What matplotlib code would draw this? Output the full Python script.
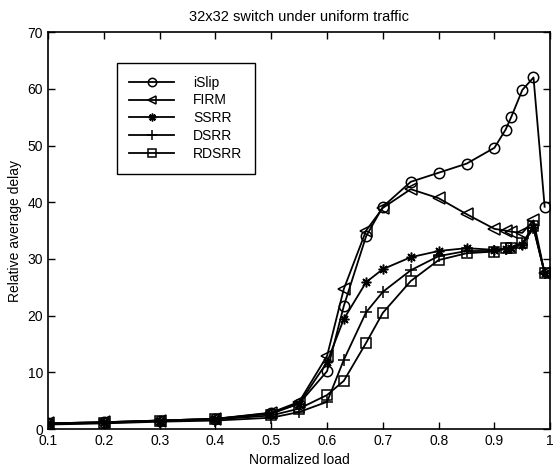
import matplotlib
matplotlib.use("Agg")
import matplotlib.pyplot as plt

plt.rcParams['font.family'] = ['Liberation Sans', 'DejaVu Sans']

load = [0.1, 0.2, 0.3, 0.4, 0.5, 0.55, 0.6, 0.63, 0.67, 0.7, 0.75, 0.8, 0.85, 0.9, 0.92, 0.93, 0.95, 0.97, 0.99]
islip = [1.0, 1.2, 1.5, 1.8, 2.8, 4.5, 10.2, 21.7, 34.0, 39.2, 43.6, 45.2, 46.8, 49.6, 52.8, 55.0, 59.8, 62.0, 39.2]
firm = [1.0, 1.2, 1.5, 1.8, 2.9, 4.8, 12.9, 24.7, 35.0, 39.0, 42.3, 40.7, 37.9, 35.3, 35.0, 34.8, 34.6, 36.8, 27.5]
ssrr = [1.0, 1.2, 1.5, 1.8, 2.7, 4.5, 11.8, 19.4, 25.9, 28.2, 30.3, 31.4, 31.9, 31.6, 31.8, 32.0, 32.5, 35.6, 27.5]
dsrr = [0.8, 1.0, 1.3, 1.5, 2.0, 3.0, 4.8, 12.2, 20.6, 24.2, 28.0, 30.5, 31.4, 31.4, 31.8, 31.9, 32.6, 35.4, 27.5]
rdsrr = [0.9, 1.1, 1.4, 1.7, 2.4, 3.6, 6.0, 8.5, 15.2, 20.5, 26.1, 29.8, 31.0, 31.3, 32.0, 32.0, 32.8, 35.8, 27.5]

xticks = [0.1, 0.2, 0.3, 0.4, 0.5, 0.6, 0.7, 0.8, 0.9, 1.0]
xticklabels = ['0.1', '0.2', '0.3', '0.4', '0.5', '0.6', '0.7', '0.8', '0.9', '1']
yticks = [0, 10, 20, 30, 40, 50, 60, 70]

fig = plt.figure(figsize=(5.53, 4.72), dpi=100)
ax = fig.add_axes([0.087, 0.091, 0.908, 0.841])

lw = 1.3
common = dict(color='black', linewidth=lw, markeredgewidth=1.1)
ax.plot(load, islip, marker='o', markersize=7.5, markerfacecolor='none', label='iSlip', **common)
ax.plot(load, firm, marker='<', markersize=8, markerfacecolor='none', label='FIRM', **common)
ax.plot(load, ssrr, marker=(8, 2, 0), markersize=7, label='SSRR', **common)
ax.plot(load, dsrr, marker='+', markersize=9, label='DSRR', **common)
ax.plot(load, rdsrr, marker='s', markersize=7, markerfacecolor='none', label='RDSRR', **common)

ax.set_xlim(0.1, 1.0)
ax.set_ylim(0, 70)
ax.set_xticks(xticks)
ax.set_xticklabels(xticklabels)
ax.set_yticks(yticks)
ax.tick_params(direction='in', top=True, right=True, length=5, labelsize=10, width=1)
for s in ax.spines.values():
    s.set_linewidth(1.2)

ax.set_xlabel('Normalized load', fontsize=10, labelpad=4)
ax.set_ylabel('Relative average delay', fontsize=10, labelpad=4)
ax.set_title('32x32 switch under uniform traffic', fontsize=10.5, pad=8)

leg = ax.legend(loc='upper left', bbox_to_anchor=(0.137, 0.922), fancybox=False,
                edgecolor='black', framealpha=1, fontsize=10, handlelength=3.2,
                labelspacing=0.28, borderpad=0.9, handletextpad=1.4, borderaxespad=0,
                markerscale=0.8)
leg.get_frame().set_linewidth(1.0)

fig.savefig('out.png', dpi=100)
